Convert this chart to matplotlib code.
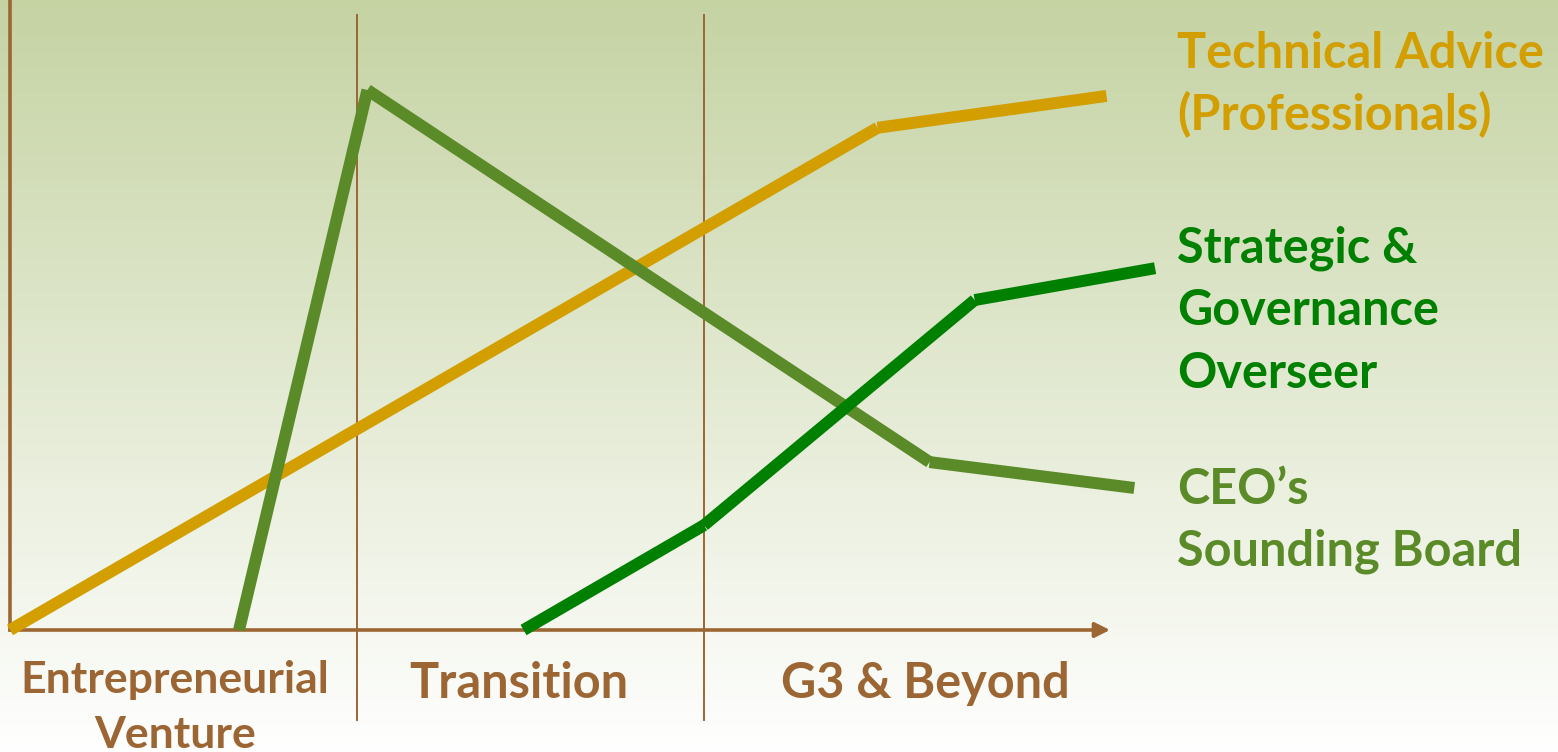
import matplotlib.pyplot as plt
import numpy as np

# stage index on x (0 = start, 1 and 2 = stage dividers), involvement level on y (0-100)
stages = [["Entrepreneurial", "Venture"], ["Transition"], ["G3 & Beyond"]]

tech_x = [0.0, 2.50, 3.16]
tech_y = [0.0, 93.0, 98.9]

ceo_x = [0.66, 1.03, 2.65, 3.24]
ceo_y = [0.0, 100.0, 31.1, 26.3]

strat_x = [1.48, 2.0, 2.78, 3.30]
strat_y = [0.0, 19.4, 61.1, 67.0]

tech_label = ["Technical Advice", "(Professionals)"]
strat_label = ["Strategic &", "Governance", "Overseer"]
ceo_label = ["CEO\u2019s", "Sounding Board"]

gold = "#D29E00"
olive = "#5B8A28"
green = "#008000"
brown = "#9B6633"

plt.rcParams['font.family'] = ['Lato', 'DejaVu Sans']

# layout helpers: picture pixels -> data units
def px2x(px):
    return (px - 10) / 347

def px2y(py):
    return (630 - py) / 5.4

fig = plt.figure(figsize=(15.58, 7.52), dpi=100)
ax = fig.add_axes([0, 0, 1, 1])
ax.set_xlim(px2x(0), px2x(1558))
ax.set_ylim(px2y(752), px2y(0))
ax.axis('off')

# gradient background (olive at top fading to white)
top = np.array([197, 211, 163]) / 255
bottom = np.array([255, 255, 255]) / 255
t = np.linspace(0, 1, 256)[:, None]
grad = top * (1 - t) + bottom * t
ax.imshow(grad[:, None, :], extent=[px2x(0), px2x(1558), px2y(752), px2y(0)],
          origin='upper', aspect='auto', zorder=0)
ax.set_xlim(px2x(0), px2x(1558))
ax.set_ylim(px2y(752), px2y(0))

# axes lines
ax.plot([0, 0], [0, px2y(0)], color=brown, lw=2.6, zorder=2)
ax.annotate("", xy=(px2x(1110), 0), xytext=(0, 0),
            arrowprops=dict(arrowstyle="-|>,head_length=0.9,head_width=0.45",
                            color=brown, lw=2.6, shrinkA=0, shrinkB=0), zorder=2)
for d in [1, 2]:
    ax.plot([d, d], [px2y(720), px2y(15)], color=brown, lw=1.4, zorder=2)

# series: each segment drawn separately with butt caps
def draw(xs, ys, color):
    for i in range(len(xs) - 1):
        ax.plot(xs[i:i + 2], ys[i:i + 2], color=color, lw=8.6,
                solid_capstyle='butt', zorder=3)

draw(tech_x, tech_y, gold)
draw(ceo_x, ceo_y, olive)
draw(strat_x, strat_y, green)

def lines(texts, x, baselines, color, size, ha='left'):
    for s, b in zip(texts, baselines):
        ax.text(px2x(x), px2y(b), s, color=color, fontsize=size,
                fontweight='bold', ha=ha, va='baseline', zorder=4)

# stage labels
lines(stages[0], 175, [693, 748], brown, 32, ha='center')
lines(stages[1], 519, [698], brown, 35, ha='center')
lines(stages[2], 925, [698], brown, 35, ha='center')

# series labels
lines(tech_label, 1177, [68, 130], gold, 35)
lines(strat_label, 1177, [262, 325, 388], green, 35)
lines(ceo_label, 1177, [504, 566], olive, 35)

fig.savefig("out.png", dpi=100)
